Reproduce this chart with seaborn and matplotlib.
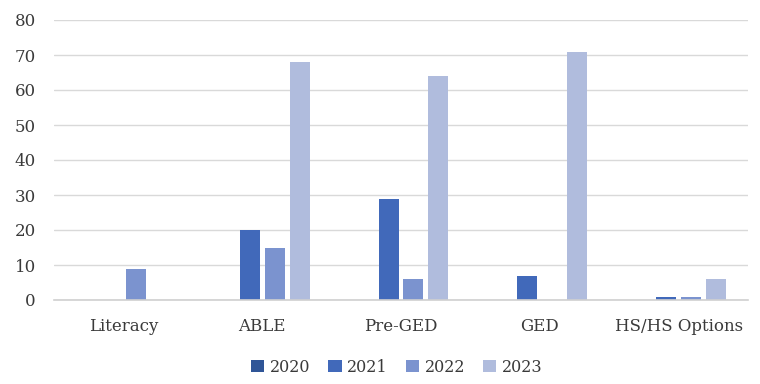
import matplotlib
matplotlib.use("Agg")
import matplotlib.pyplot as plt
import seaborn as sns
import pandas as pd

# Enrollment counts by program level and year
categories = ["Literacy", "ABLE", "Pre-GED", "GED", "HS/HS Options"]
years = ["2020", "2021", "2022", "2023"]
values_2020 = [0, 0, 0, 0, 0]
values_2021 = [0, 20, 29, 7, 1]
values_2022 = [9, 15, 6, 0, 1]
values_2023 = [0, 68, 64, 71, 6]
y_ticks = [0, 10, 20, 30, 40, 50, 60, 70, 80]

colors = ["#2F5597", "#4169BA", "#7B93CF", "#B0BCDD"]

series = {"2020": values_2020, "2021": values_2021,
          "2022": values_2022, "2023": values_2023}
rows = []
for yr in years:
    for cat, v in zip(categories, series[yr]):
        rows.append({"Program": cat, "Year": yr, "Count": v})
df = pd.DataFrame(rows)

sns.set_theme(style="white")
plt.rcParams["font.family"] = ["DejaVu Serif"]

fig = plt.figure(figsize=(7.6, 3.84), dpi=100)
ax = fig.add_axes([54 / 760, 1 - 300 / 384, 694 / 760, 280 / 384])

sns.barplot(data=df, x="Program", y="Count", hue="Year", order=categories,
            hue_order=years, palette=colors, width=0.72, gap=0.2,
            linewidth=0, saturation=1, ax=ax, legend=True)

ax.set_ylim(0, 80)
ax.set_xlim(-0.5, len(categories) - 0.5)
ax.set_yticks(y_ticks)
ax.set_yticklabels([str(t) for t in y_ticks])
ax.yaxis.grid(True, color="#D9D9D9", linewidth=1.0)
ax.set_axisbelow(True)
for side in ["top", "right", "left"]:
    ax.spines[side].set_visible(False)
ax.spines["bottom"].set_color("#D0D0D0")
ax.spines["bottom"].set_linewidth(1.2)
ax.set_xlabel("")
ax.set_ylabel("")
ax.tick_params(axis="x", length=0, pad=13, labelsize=12, labelcolor="#3A3A3A")
ax.tick_params(axis="y", length=0, pad=13, labelsize=12, labelcolor="#3A3A3A")

handles, labels = ax.get_legend_handles_labels()
ax.get_legend().remove()
fig.legend(handles, labels, loc="center", bbox_to_anchor=(0.522, 0.044),
           ncol=4, frameon=False, fontsize=11.5, handlelength=0.85,
           handleheight=0.85, handletextpad=0.35, columnspacing=1.1,
           labelcolor="#3A3A3A")

fig.savefig("out.png", dpi=100, facecolor="white")
